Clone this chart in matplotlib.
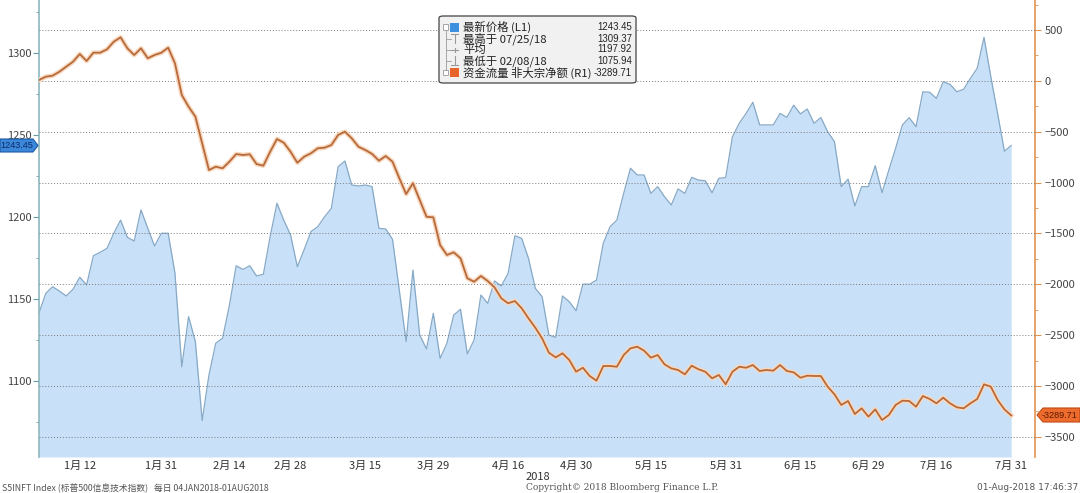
import matplotlib
matplotlib.use('Agg')
import matplotlib.pyplot as plt
from matplotlib.patches import Polygon, FancyBboxPatch, Rectangle
from matplotlib.lines import Line2D
import matplotlib.patheffects as pe
from matplotlib.ticker import MultipleLocator
import numpy as np

plt.rcParams['font.family'] = ['Noto Sans CJK SC', 'DejaVu Sans']

# S5INFT index last price (left axis), daily 04JAN2018 - 31JUL2018
price = [1141.4, 1153.4, 1157.4, 1154.8, 1151.8, 1155.9, 1163.2, 1158.5, 1176.3, 1178.4,
         1180.8, 1190.0, 1198.0, 1187.5, 1185.3, 1204.2, 1193.0, 1182.2, 1190.0, 1190.0,
         1165.6, 1108.7, 1139.2, 1124.0, 1075.9, 1103.7, 1123.0, 1126.0, 1146.0, 1170.2,
         1168.0, 1170.2, 1164.0, 1165.0, 1188.0, 1208.3, 1198.0, 1189.0, 1169.6, 1180.0,
         1191.0, 1194.0, 1200.0, 1205.2, 1230.6, 1234.0, 1219.4, 1218.8, 1219.4, 1218.4,
         1193.0, 1192.6, 1186.3, 1155.4, 1124.0, 1167.6, 1128.0, 1119.5, 1141.2, 1113.8,
         1123.0, 1140.2, 1143.7, 1116.5, 1125.0, 1152.4, 1147.3, 1161.0, 1157.9, 1165.6,
         1188.5, 1186.9, 1174.7, 1156.5, 1151.4, 1128.0, 1126.6, 1151.8, 1148.3, 1142.8,
         1159.0, 1159.0, 1161.5, 1183.9, 1194.0, 1198.0, 1214.3, 1229.6, 1225.5, 1225.5,
         1214.3, 1218.4, 1212.3, 1207.2, 1217.0, 1214.3, 1224.1, 1222.4, 1222.0, 1214.7,
         1223.5, 1223.9, 1248.8, 1257.0, 1263.0, 1269.8, 1256.0, 1256.0, 1256.0, 1263.0,
         1260.6, 1268.0, 1262.7, 1265.7, 1257.0, 1260.5, 1251.9, 1245.8, 1218.4, 1223.0,
         1206.6, 1218.4, 1218.4, 1231.2, 1214.7, 1228.5, 1241.8, 1256.0, 1260.4, 1254.9,
         1276.2, 1275.9, 1272.2, 1282.3, 1280.7, 1276.2, 1277.7, 1284.4, 1290.5, 1309.37,
         1285.4, 1263.0, 1240.0, 1243.45]

# Money flow, non-block net (right axis)
flow = [8, 41, 51, 90, 139, 188, 264, 195, 277, 277,
        310, 385, 428, 320, 254, 320, 222, 254, 277, 326,
        172, -139, -254, -352, -614, -877, -844, -860, -795, -720,
        -729, -722, -818, -834, -697, -572, -608, -697, -805, -746,
        -712, -663, -657, -631, -532, -500, -565, -648, -680, -719,
        -785, -739, -795, -958, -1113, -1007, -1172, -1336, -1342, -1614,
        -1712, -1686, -1745, -1941, -1975, -1919, -1968, -2030, -2138, -2187,
        -2165, -2236, -2335, -2427, -2532, -2673, -2719, -2679, -2745, -2860,
        -2821, -2902, -2948, -2804, -2804, -2811, -2696, -2630, -2614, -2653,
        -2722, -2696, -2787, -2827, -2843, -2886, -2801, -2836, -2860, -2925,
        -2892, -2984, -2860, -2811, -2821, -2794, -2853, -2843, -2850, -2794,
        -2853, -2866, -2919, -2899, -2902, -2902, -3007, -3082, -3187, -3148,
        -3276, -3220, -3302, -3230, -3335, -3286, -3187, -3145, -3148, -3204,
        -3099, -3128, -3171, -3115, -3171, -3210, -3220, -3171, -3128, -2984,
        -3007, -3138, -3230, -3289.71]

tick_idx = [6, 18, 28, 37, 48, 58, 69, 79, 90, 101, 112, 122, 132, 143]
tick_labels = ['1月 12', '1月 31', '2月 14', '2月 28', '3月 15', '3月 29', '4月 16',
               '4月 30', '5月 15', '5月 31', '6月 15', '6月 29', '7月 16', '7月 31']

legend_rows = ['最新价格 (L1)', '最高于 07/25/18', '平均', '最低于 02/08/18', '资金流量 非大宗净额 (R1)']
legend_vals = ['1243.45', '1309.37', '1197.92', '1075.94', '-3289.71']

W, H = 1080, 493
fig = plt.figure(figsize=(W / 100, H / 100), dpi=100)
fig.patch.set_facecolor('white')


def fx(x):
    return x / W


def fy(y):
    return 1 - y / H


ax = fig.add_axes([39 / W, 36 / H, (1035 - 39) / W, 457 / H])
x = np.arange(len(price))
ax.set_xlim(0, 146.5)
ymin_l = 1053.7
ax.set_ylim(ymin_l, 1332.1)
ax.fill_between(x, price, ymin_l, color='#c8e0f8', lw=0, zorder=1)
ax.plot(x, price, color='#86a9c6', lw=0.9, zorder=2)

ax2 = ax.twinx()
ax2.set_ylim(-3698.6, 795)
ax2.plot(x, flow, color='#b86a3a', lw=1.3, zorder=3,
         path_effects=[pe.Stroke(linewidth=3.4, foreground='#f7d9c0'), pe.Normal()])

# grid following right axis
ax2.yaxis.set_major_locator(MultipleLocator(500))
ax2.yaxis.set_minor_locator(MultipleLocator(250))
ax2.yaxis.grid(True, which='major', color='#7a7a7a', lw=0.7, ls=(0, (1, 2)))
ax2.set_axisbelow(False)

ax.yaxis.set_major_locator(MultipleLocator(50))
ax.yaxis.set_minor_locator(MultipleLocator(25))

for s in ['top', 'bottom', 'right']:
    ax.spines[s].set_visible(False)
for s in ['top', 'bottom', 'left']:
    ax2.spines[s].set_visible(False)
ax.spines['left'].set_color('#8cb6be')
ax.spines['left'].set_linewidth(1.2)
ax2.spines['right'].set_color('#e3924f')
ax2.spines['right'].set_linewidth(1.2)

ax.tick_params(axis='y', which='major', direction='out', length=4, color='#6a9aa4',
               labelsize=8, labelcolor='#444444', pad=1)
ax.tick_params(axis='y', which='minor', direction='out', length=2, color='#6a9aa4')
ax2.tick_params(axis='y', which='major', direction='out', length=4, color='#e3924f',
                labelsize=8, labelcolor='#444444', pad=3)
ax2.tick_params(axis='y', which='minor', direction='out', length=2, color='#e3924f')
ax.set_yticks([1100, 1150, 1200, 1250, 1300])
ax.set_yticklabels(['1100', '1150', '1200', '1250', '1300'])

ax.set_xticks(tick_idx)
ax.set_xticklabels(tick_labels)
ax.tick_params(axis='x', length=0, pad=3, labelsize=8, labelcolor='#333333')

fig.text(fx(538), fy(477), '2018', fontsize=8, color='#333333', ha='center', va='center')

# value tags
fig.patches.append(Polygon([(fx(0), fy(139)), (fx(33), fy(139)), (fx(38), fy(145.5)),
                            (fx(33), fy(152)), (fx(0), fy(152))], closed=True,
                           transform=fig.transFigure, fc='#3b87d9', ec='#1c5aa5', lw=0.8))
fig.text(fx(17), fy(145.5), '1243.45', fontsize=6.6, color='#0d2d6b', ha='center', va='center',
         family='Liberation Sans')
fig.patches.append(Polygon([(fx(1037), fy(415)), (fx(1043), fy(408)), (fx(1080), fy(408)),
                            (fx(1080), fy(422)), (fx(1043), fy(422))], closed=True,
                           transform=fig.transFigure, fc='#ee6b2e', ec='#c04a10', lw=0.8))
fig.text(fx(1060), fy(415), '-3289.71', fontsize=6.6, color='#5a1a00', ha='center', va='center',
         family='Liberation Sans')

# legend box
fig.patches.append(FancyBboxPatch((fx(439), fy(83)), fx(636) - fx(439), fy(16) - fy(83),
                                  boxstyle='round,pad=0,rounding_size=0.004',
                                  transform=fig.transFigure, fc='#f1f1f1', ec='#444444', lw=0.9))
row_y = [27, 38.5, 49.5, 61, 72.5]
for ry, lab, val in zip(row_y, legend_rows, legend_vals):
    fig.text(fx(463), fy(ry), lab, fontsize=8.2, color='#222222', ha='left', va='center')
    fig.text(fx(632), fy(ry), val, fontsize=6.9, color='#222222', ha='right', va='center',
             family='Liberation Sans')
# icons
for ry, col in [(27, '#3d8fe0'), (72.5, '#e8642a')]:
    fig.patches.append(Rectangle((fx(443), fy(ry + 2.5)), fx(5), 5 / H, transform=fig.transFigure,
                                 fc='white', ec='#999999', lw=0.6))
    fig.patches.append(Rectangle((fx(450), fy(ry + 4.5)), fx(9), 9 / H, transform=fig.transFigure,
                                 fc=col, ec='none'))
tree = '#9a9a9a'
fig.add_artist(Line2D([fx(445.5), fx(445.5)], [fy(30), fy(70)], transform=fig.transFigure,
                      color=tree, lw=0.6))
for ry in [38.5, 49.5, 61]:
    fig.add_artist(Line2D([fx(445.5), fx(451)], [fy(ry), fy(ry)], transform=fig.transFigure,
                          color=tree, lw=0.6))
# T glyph (high)
fig.add_artist(Line2D([fx(451), fx(458)], [fy(34), fy(34)], transform=fig.transFigure, color=tree, lw=0.8))
fig.add_artist(Line2D([fx(454.5), fx(454.5)], [fy(34), fy(43)], transform=fig.transFigure, color=tree, lw=0.8))
# average glyph
fig.add_artist(Line2D([fx(451), fx(458)], [fy(49.5), fy(49.5)], transform=fig.transFigure, color=tree, lw=0.8))
fig.add_artist(Line2D([fx(454.5), fx(454.5)], [fy(47.5), fy(51.5)], transform=fig.transFigure, color=tree, lw=0.8))
# inverted T glyph (low)
fig.add_artist(Line2D([fx(451), fx(458)], [fy(65), fy(65)], transform=fig.transFigure, color=tree, lw=0.8))
fig.add_artist(Line2D([fx(454.5), fx(454.5)], [fy(56), fy(65)], transform=fig.transFigure, color=tree, lw=0.8))

# footer
fig.text(fx(2), fy(488), 'S5INFT Index (标普500信息技术指数)   每日 04JAN2018-01AUG2018',
         fontsize=6.3, color='#555555', ha='left', va='center')
fig.text(fx(622), fy(488), 'Copyright© 2018 Bloomberg Finance L.P.', fontsize=6.5,
         color='#555555', ha='center', va='center', family='DejaVu Serif')
fig.text(fx(1078), fy(488), '01-Aug-2018 17:46:37', fontsize=6.5, color='#555555',
         ha='right', va='center', family='DejaVu Sans')

fig.savefig('out.png', dpi=100)
